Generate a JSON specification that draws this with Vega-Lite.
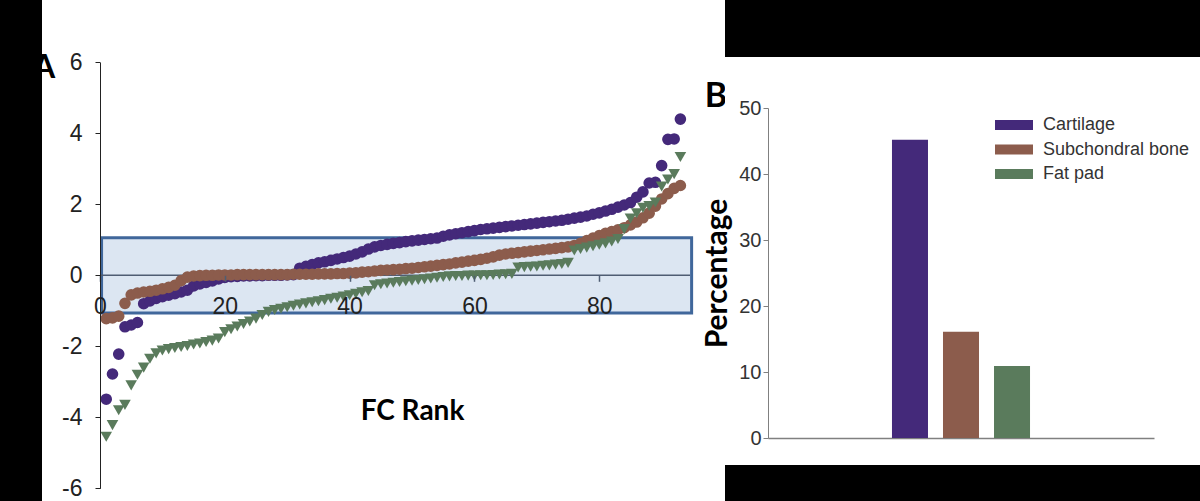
{
  "$schema": "https://vega.github.io/schema/vega-lite/v6.json",
  "background": "black",
  "padding": {"left": 42, "top": 0, "right": 0, "bottom": 0},
  "spacing": 0,
  "bounds": "flush",
  "config": {"view": {"stroke": null}, "axis": {"grid": false, "labelFont": "Liberation Sans"}, "font": "Liberation Sans"},
  "resolve": {"scale": {"color": "independent", "shape": "independent", "size": "independent"}, "legend": {"color": "independent"}},
  "datasets": {
    "fc": [
      {"tissue":"Cartilage","rank":1,"log_fc":-3.49},{"tissue":"Cartilage","rank":2,"log_fc":-2.78},{"tissue":"Cartilage","rank":3,"log_fc":-2.22},{"tissue":"Cartilage","rank":4,"log_fc":-1.45},{"tissue":"Cartilage","rank":5,"log_fc":-1.4},{"tissue":"Cartilage","rank":6,"log_fc":-1.33},{"tissue":"Cartilage","rank":7,"log_fc":-0.8},{"tissue":"Cartilage","rank":8,"log_fc":-0.72},{"tissue":"Cartilage","rank":9,"log_fc":-0.65},{"tissue":"Cartilage","rank":10,"log_fc":-0.6},
      {"tissue":"Cartilage","rank":11,"log_fc":-0.56},{"tissue":"Cartilage","rank":12,"log_fc":-0.52},{"tissue":"Cartilage","rank":13,"log_fc":-0.47},{"tissue":"Cartilage","rank":14,"log_fc":-0.42},{"tissue":"Cartilage","rank":15,"log_fc":-0.3},{"tissue":"Cartilage","rank":16,"log_fc":-0.24},{"tissue":"Cartilage","rank":17,"log_fc":-0.2},{"tissue":"Cartilage","rank":18,"log_fc":-0.16},{"tissue":"Cartilage","rank":19,"log_fc":-0.1},{"tissue":"Cartilage","rank":20,"log_fc":-0.06},
      {"tissue":"Cartilage","rank":21,"log_fc":-0.04},{"tissue":"Cartilage","rank":22,"log_fc":-0.03},{"tissue":"Cartilage","rank":23,"log_fc":-0.02},{"tissue":"Cartilage","rank":24,"log_fc":-0.02},{"tissue":"Cartilage","rank":25,"log_fc":-0.01},{"tissue":"Cartilage","rank":26,"log_fc":-0.01},{"tissue":"Cartilage","rank":27,"log_fc":0},{"tissue":"Cartilage","rank":28,"log_fc":0},{"tissue":"Cartilage","rank":29,"log_fc":0},{"tissue":"Cartilage","rank":30,"log_fc":0.01},
      {"tissue":"Cartilage","rank":31,"log_fc":0.02},{"tissue":"Cartilage","rank":32,"log_fc":0.2},{"tissue":"Cartilage","rank":33,"log_fc":0.25},{"tissue":"Cartilage","rank":34,"log_fc":0.3},{"tissue":"Cartilage","rank":35,"log_fc":0.35},{"tissue":"Cartilage","rank":36,"log_fc":0.38},{"tissue":"Cartilage","rank":37,"log_fc":0.42},{"tissue":"Cartilage","rank":38,"log_fc":0.46},{"tissue":"Cartilage","rank":39,"log_fc":0.5},{"tissue":"Cartilage","rank":40,"log_fc":0.54},
      {"tissue":"Cartilage","rank":41,"log_fc":0.6},{"tissue":"Cartilage","rank":42,"log_fc":0.66},{"tissue":"Cartilage","rank":43,"log_fc":0.74},{"tissue":"Cartilage","rank":44,"log_fc":0.8},{"tissue":"Cartilage","rank":45,"log_fc":0.84},{"tissue":"Cartilage","rank":46,"log_fc":0.87},{"tissue":"Cartilage","rank":47,"log_fc":0.9},{"tissue":"Cartilage","rank":48,"log_fc":0.92},{"tissue":"Cartilage","rank":49,"log_fc":0.95},{"tissue":"Cartilage","rank":50,"log_fc":0.97},
      {"tissue":"Cartilage","rank":51,"log_fc":0.99},{"tissue":"Cartilage","rank":52,"log_fc":1.01},{"tissue":"Cartilage","rank":53,"log_fc":1.03},{"tissue":"Cartilage","rank":54,"log_fc":1.05},{"tissue":"Cartilage","rank":55,"log_fc":1.1},{"tissue":"Cartilage","rank":56,"log_fc":1.14},{"tissue":"Cartilage","rank":57,"log_fc":1.17},{"tissue":"Cartilage","rank":58,"log_fc":1.2},{"tissue":"Cartilage","rank":59,"log_fc":1.23},{"tissue":"Cartilage","rank":60,"log_fc":1.26},
      {"tissue":"Cartilage","rank":61,"log_fc":1.29},{"tissue":"Cartilage","rank":62,"log_fc":1.31},{"tissue":"Cartilage","rank":63,"log_fc":1.33},{"tissue":"Cartilage","rank":64,"log_fc":1.35},{"tissue":"Cartilage","rank":65,"log_fc":1.37},{"tissue":"Cartilage","rank":66,"log_fc":1.39},{"tissue":"Cartilage","rank":67,"log_fc":1.41},{"tissue":"Cartilage","rank":68,"log_fc":1.43},{"tissue":"Cartilage","rank":69,"log_fc":1.45},{"tissue":"Cartilage","rank":70,"log_fc":1.47},
      {"tissue":"Cartilage","rank":71,"log_fc":1.49},{"tissue":"Cartilage","rank":72,"log_fc":1.51},{"tissue":"Cartilage","rank":73,"log_fc":1.53},{"tissue":"Cartilage","rank":74,"log_fc":1.55},{"tissue":"Cartilage","rank":75,"log_fc":1.58},{"tissue":"Cartilage","rank":76,"log_fc":1.61},{"tissue":"Cartilage","rank":77,"log_fc":1.64},{"tissue":"Cartilage","rank":78,"log_fc":1.67},{"tissue":"Cartilage","rank":79,"log_fc":1.72},{"tissue":"Cartilage","rank":80,"log_fc":1.76},
      {"tissue":"Cartilage","rank":81,"log_fc":1.81},{"tissue":"Cartilage","rank":82,"log_fc":1.86},{"tissue":"Cartilage","rank":83,"log_fc":1.92},{"tissue":"Cartilage","rank":84,"log_fc":1.98},{"tissue":"Cartilage","rank":85,"log_fc":2.05},{"tissue":"Cartilage","rank":86,"log_fc":2.2},{"tissue":"Cartilage","rank":87,"log_fc":2.35},{"tissue":"Cartilage","rank":88,"log_fc":2.6},{"tissue":"Cartilage","rank":89,"log_fc":2.62},{"tissue":"Cartilage","rank":90,"log_fc":3.09},
      {"tissue":"Cartilage","rank":91,"log_fc":3.83},{"tissue":"Cartilage","rank":92,"log_fc":3.84},{"tissue":"Cartilage","rank":93,"log_fc":4.4},
      {"tissue":"Subchondral bone","rank":1,"log_fc":-1.22},{"tissue":"Subchondral bone","rank":2,"log_fc":-1.2},{"tissue":"Subchondral bone","rank":3,"log_fc":-1.15},{"tissue":"Subchondral bone","rank":4,"log_fc":-0.79},{"tissue":"Subchondral bone","rank":5,"log_fc":-0.55},{"tissue":"Subchondral bone","rank":6,"log_fc":-0.5},{"tissue":"Subchondral bone","rank":7,"log_fc":-0.47},{"tissue":"Subchondral bone","rank":8,"log_fc":-0.45},{"tissue":"Subchondral bone","rank":9,"log_fc":-0.42},{"tissue":"Subchondral bone","rank":10,"log_fc":-0.38},
      {"tissue":"Subchondral bone","rank":11,"log_fc":-0.34},{"tissue":"Subchondral bone","rank":12,"log_fc":-0.28},{"tissue":"Subchondral bone","rank":13,"log_fc":-0.15},{"tissue":"Subchondral bone","rank":14,"log_fc":-0.05},{"tissue":"Subchondral bone","rank":15,"log_fc":-0.02},{"tissue":"Subchondral bone","rank":16,"log_fc":-0.01},{"tissue":"Subchondral bone","rank":17,"log_fc":0},{"tissue":"Subchondral bone","rank":18,"log_fc":0},{"tissue":"Subchondral bone","rank":19,"log_fc":0.01},{"tissue":"Subchondral bone","rank":20,"log_fc":0.01},
      {"tissue":"Subchondral bone","rank":21,"log_fc":0.01},{"tissue":"Subchondral bone","rank":22,"log_fc":0.02},{"tissue":"Subchondral bone","rank":23,"log_fc":0.02},{"tissue":"Subchondral bone","rank":24,"log_fc":0.02},{"tissue":"Subchondral bone","rank":25,"log_fc":0.02},{"tissue":"Subchondral bone","rank":26,"log_fc":0.02},{"tissue":"Subchondral bone","rank":27,"log_fc":0.02},{"tissue":"Subchondral bone","rank":28,"log_fc":0.02},{"tissue":"Subchondral bone","rank":29,"log_fc":0.02},{"tissue":"Subchondral bone","rank":30,"log_fc":0.02},
      {"tissue":"Subchondral bone","rank":31,"log_fc":0.03},{"tissue":"Subchondral bone","rank":32,"log_fc":0.03},{"tissue":"Subchondral bone","rank":33,"log_fc":0.03},{"tissue":"Subchondral bone","rank":34,"log_fc":0.03},{"tissue":"Subchondral bone","rank":35,"log_fc":0.04},{"tissue":"Subchondral bone","rank":36,"log_fc":0.04},{"tissue":"Subchondral bone","rank":37,"log_fc":0.04},{"tissue":"Subchondral bone","rank":38,"log_fc":0.05},{"tissue":"Subchondral bone","rank":39,"log_fc":0.05},{"tissue":"Subchondral bone","rank":40,"log_fc":0.06},
      {"tissue":"Subchondral bone","rank":41,"log_fc":0.07},{"tissue":"Subchondral bone","rank":42,"log_fc":0.09},{"tissue":"Subchondral bone","rank":43,"log_fc":0.1},{"tissue":"Subchondral bone","rank":44,"log_fc":0.12},{"tissue":"Subchondral bone","rank":45,"log_fc":0.14},{"tissue":"Subchondral bone","rank":46,"log_fc":0.15},{"tissue":"Subchondral bone","rank":47,"log_fc":0.16},{"tissue":"Subchondral bone","rank":48,"log_fc":0.17},{"tissue":"Subchondral bone","rank":49,"log_fc":0.19},{"tissue":"Subchondral bone","rank":50,"log_fc":0.2},
      {"tissue":"Subchondral bone","rank":51,"log_fc":0.22},{"tissue":"Subchondral bone","rank":52,"log_fc":0.24},{"tissue":"Subchondral bone","rank":53,"log_fc":0.26},{"tissue":"Subchondral bone","rank":54,"log_fc":0.28},{"tissue":"Subchondral bone","rank":55,"log_fc":0.3},{"tissue":"Subchondral bone","rank":56,"log_fc":0.32},{"tissue":"Subchondral bone","rank":57,"log_fc":0.35},{"tissue":"Subchondral bone","rank":58,"log_fc":0.37},{"tissue":"Subchondral bone","rank":59,"log_fc":0.4},{"tissue":"Subchondral bone","rank":60,"log_fc":0.42},
      {"tissue":"Subchondral bone","rank":61,"log_fc":0.45},{"tissue":"Subchondral bone","rank":62,"log_fc":0.48},{"tissue":"Subchondral bone","rank":63,"log_fc":0.52},{"tissue":"Subchondral bone","rank":64,"log_fc":0.57},{"tissue":"Subchondral bone","rank":65,"log_fc":0.6},{"tissue":"Subchondral bone","rank":66,"log_fc":0.62},{"tissue":"Subchondral bone","rank":67,"log_fc":0.64},{"tissue":"Subchondral bone","rank":68,"log_fc":0.66},{"tissue":"Subchondral bone","rank":69,"log_fc":0.68},{"tissue":"Subchondral bone","rank":70,"log_fc":0.7},
      {"tissue":"Subchondral bone","rank":71,"log_fc":0.72},{"tissue":"Subchondral bone","rank":72,"log_fc":0.74},{"tissue":"Subchondral bone","rank":73,"log_fc":0.76},{"tissue":"Subchondral bone","rank":74,"log_fc":0.78},{"tissue":"Subchondral bone","rank":75,"log_fc":0.8},{"tissue":"Subchondral bone","rank":76,"log_fc":0.84},{"tissue":"Subchondral bone","rank":77,"log_fc":0.9},{"tissue":"Subchondral bone","rank":78,"log_fc":0.98},{"tissue":"Subchondral bone","rank":79,"log_fc":1.05},{"tissue":"Subchondral bone","rank":80,"log_fc":1.12},
      {"tissue":"Subchondral bone","rank":81,"log_fc":1.18},{"tissue":"Subchondral bone","rank":82,"log_fc":1.23},{"tissue":"Subchondral bone","rank":83,"log_fc":1.28},{"tissue":"Subchondral bone","rank":84,"log_fc":1.34},{"tissue":"Subchondral bone","rank":85,"log_fc":1.42},{"tissue":"Subchondral bone","rank":86,"log_fc":1.5},{"tissue":"Subchondral bone","rank":87,"log_fc":1.62},{"tissue":"Subchondral bone","rank":88,"log_fc":1.75},{"tissue":"Subchondral bone","rank":89,"log_fc":1.95},{"tissue":"Subchondral bone","rank":90,"log_fc":2.15},
      {"tissue":"Subchondral bone","rank":91,"log_fc":2.3},{"tissue":"Subchondral bone","rank":92,"log_fc":2.45},{"tissue":"Subchondral bone","rank":93,"log_fc":2.53},
      {"tissue":"Fat pad","rank":1,"log_fc":-4.55},{"tissue":"Fat pad","rank":2,"log_fc":-4.22},{"tissue":"Fat pad","rank":3,"log_fc":-3.8},{"tissue":"Fat pad","rank":4,"log_fc":-3.65},{"tissue":"Fat pad","rank":5,"log_fc":-3.1},{"tissue":"Fat pad","rank":6,"log_fc":-2.8},{"tissue":"Fat pad","rank":7,"log_fc":-2.6},{"tissue":"Fat pad","rank":8,"log_fc":-2.35},{"tissue":"Fat pad","rank":9,"log_fc":-2.2},{"tissue":"Fat pad","rank":10,"log_fc":-2.12},
      {"tissue":"Fat pad","rank":11,"log_fc":-2.08},{"tissue":"Fat pad","rank":12,"log_fc":-2.05},{"tissue":"Fat pad","rank":13,"log_fc":-2.02},{"tissue":"Fat pad","rank":14,"log_fc":-1.99},{"tissue":"Fat pad","rank":15,"log_fc":-1.95},{"tissue":"Fat pad","rank":16,"log_fc":-1.92},{"tissue":"Fat pad","rank":17,"log_fc":-1.88},{"tissue":"Fat pad","rank":18,"log_fc":-1.84},{"tissue":"Fat pad","rank":19,"log_fc":-1.78},{"tissue":"Fat pad","rank":20,"log_fc":-1.6},
      {"tissue":"Fat pad","rank":21,"log_fc":-1.52},{"tissue":"Fat pad","rank":22,"log_fc":-1.44},{"tissue":"Fat pad","rank":23,"log_fc":-1.37},{"tissue":"Fat pad","rank":24,"log_fc":-1.3},{"tissue":"Fat pad","rank":25,"log_fc":-1.22},{"tissue":"Fat pad","rank":26,"log_fc":-1.12},{"tissue":"Fat pad","rank":27,"log_fc":-1.03},{"tissue":"Fat pad","rank":28,"log_fc":-0.98},{"tissue":"Fat pad","rank":29,"log_fc":-0.94},{"tissue":"Fat pad","rank":30,"log_fc":-0.9},
      {"tissue":"Fat pad","rank":31,"log_fc":-0.86},{"tissue":"Fat pad","rank":32,"log_fc":-0.82},{"tissue":"Fat pad","rank":33,"log_fc":-0.79},{"tissue":"Fat pad","rank":34,"log_fc":-0.76},{"tissue":"Fat pad","rank":35,"log_fc":-0.73},{"tissue":"Fat pad","rank":36,"log_fc":-0.7},{"tissue":"Fat pad","rank":37,"log_fc":-0.66},{"tissue":"Fat pad","rank":38,"log_fc":-0.63},{"tissue":"Fat pad","rank":39,"log_fc":-0.6},{"tissue":"Fat pad","rank":40,"log_fc":-0.56},
      {"tissue":"Fat pad","rank":41,"log_fc":-0.52},{"tissue":"Fat pad","rank":42,"log_fc":-0.48},{"tissue":"Fat pad","rank":43,"log_fc":-0.44},{"tissue":"Fat pad","rank":44,"log_fc":-0.28},{"tissue":"Fat pad","rank":45,"log_fc":-0.25},{"tissue":"Fat pad","rank":46,"log_fc":-0.23},{"tissue":"Fat pad","rank":47,"log_fc":-0.21},{"tissue":"Fat pad","rank":48,"log_fc":-0.19},{"tissue":"Fat pad","rank":49,"log_fc":-0.17},{"tissue":"Fat pad","rank":50,"log_fc":-0.15},
      {"tissue":"Fat pad","rank":51,"log_fc":-0.13},{"tissue":"Fat pad","rank":52,"log_fc":-0.11},{"tissue":"Fat pad","rank":53,"log_fc":-0.09},{"tissue":"Fat pad","rank":54,"log_fc":-0.07},{"tissue":"Fat pad","rank":55,"log_fc":-0.05},{"tissue":"Fat pad","rank":56,"log_fc":-0.03},{"tissue":"Fat pad","rank":57,"log_fc":-0.02},{"tissue":"Fat pad","rank":58,"log_fc":-0.02},{"tissue":"Fat pad","rank":59,"log_fc":-0.01},{"tissue":"Fat pad","rank":60,"log_fc":-0.01},
      {"tissue":"Fat pad","rank":61,"log_fc":0},{"tissue":"Fat pad","rank":62,"log_fc":0},{"tissue":"Fat pad","rank":63,"log_fc":0.01},{"tissue":"Fat pad","rank":64,"log_fc":0.02},{"tissue":"Fat pad","rank":65,"log_fc":0.03},{"tissue":"Fat pad","rank":66,"log_fc":0.04},{"tissue":"Fat pad","rank":67,"log_fc":0.22},{"tissue":"Fat pad","rank":68,"log_fc":0.23},{"tissue":"Fat pad","rank":69,"log_fc":0.24},{"tissue":"Fat pad","rank":70,"log_fc":0.25},
      {"tissue":"Fat pad","rank":71,"log_fc":0.27},{"tissue":"Fat pad","rank":72,"log_fc":0.28},{"tissue":"Fat pad","rank":73,"log_fc":0.3},{"tissue":"Fat pad","rank":74,"log_fc":0.32},{"tissue":"Fat pad","rank":75,"log_fc":0.35},{"tissue":"Fat pad","rank":76,"log_fc":0.7},{"tissue":"Fat pad","rank":77,"log_fc":0.74},{"tissue":"Fat pad","rank":78,"log_fc":0.78},{"tissue":"Fat pad","rank":79,"log_fc":0.82},{"tissue":"Fat pad","rank":80,"log_fc":0.86},
      {"tissue":"Fat pad","rank":81,"log_fc":0.9},{"tissue":"Fat pad","rank":82,"log_fc":0.95},{"tissue":"Fat pad","rank":83,"log_fc":1.02},{"tissue":"Fat pad","rank":84,"log_fc":1.3},{"tissue":"Fat pad","rank":85,"log_fc":1.6},{"tissue":"Fat pad","rank":86,"log_fc":1.75},{"tissue":"Fat pad","rank":87,"log_fc":1.9},{"tissue":"Fat pad","rank":88,"log_fc":1.95},{"tissue":"Fat pad","rank":89,"log_fc":2.05},{"tissue":"Fat pad","rank":90,"log_fc":2.5},
      {"tissue":"Fat pad","rank":91,"log_fc":2.7},{"tissue":"Fat pad","rank":92,"log_fc":2.85},{"tissue":"Fat pad","rank":93,"log_fc":3.33}
    ],
    "pct": [
      {"tissue":"Cartilage","percentage":45.2},
      {"tissue":"Subchondral bone","percentage":16.1},
      {"tissue":"Fat pad","percentage":10.9}
    ]
  },
  "hconcat": [
    {
      "width": 683,
      "height": 501,
      "view": {"fill": "white", "stroke": null},
      "layer": [
        {
          "data": {"values": [{}]},
          "mark": {"type": "rect", "fill": "#dce6f2", "stroke": "#40679b", "strokeWidth": 3},
          "encoding": {
            "x": {"datum": 0.25, "type": "quantitative"},
            "x2": {"datum": 94.8},
            "y": {"datum": -1.06, "type": "quantitative"},
            "y2": {"datum": 1.06}
          }
        },
        {
          "data": {"values": [{}]},
          "mark": {"type": "rule", "color": "#4f5d73", "strokeWidth": 1.5},
          "encoding": {
            "x": {"datum": 0, "type": "quantitative"},
            "x2": {"datum": 94.54},
            "y": {"datum": 0, "type": "quantitative"}
          }
        },
        {
          "data": {"name": "fc"},
          "mark": {"type": "point", "filled": true, "opacity": 1, "strokeWidth": 0},
          "encoding": {
            "x": {
              "field": "rank", "type": "quantitative",
              "scale": {"domain": [0, 94.54], "range": [58, 648], "nice": false, "zero": false},
              "axis": {
                "values": [0, 20, 40, 60, 80], "orient": "bottom", "offset": -225.7, "zindex": 1,
                "domain": false, "tickColor": "#4f5d73", "tickSize": 6, "tickWidth": 1.5,
                "labelFontSize": 23, "labelColor": "#222222", "labelPadding": 14, "labelFlush": false, "labelOverlap": false,
                "title": "FC Rank", "titleFont": "Lato", "titleFontWeight": "bold", "titleFontSize": 28, "titleColor": "black",
                "titlePadding": 79, "titleX": 370
              }
            },
            "y": {
              "field": "log_fc", "type": "quantitative",
              "scale": {"domain": [-6, 6], "range": [488.3, 62.3], "nice": false, "zero": false},
              "axis": {
                "values": [-6, -4, -2, 0, 2, 4, 6], "offset": -58, "zindex": 1,
                "domainColor": "#222222", "domainWidth": 1, "tickColor": "#222222", "tickSize": 5,
                "labelFontSize": 23, "labelColor": "#222222", "labelPadding": 13, "labelFlush": false,
                "labelExpr": "'' + datum.value", "title": null
              }
            },
            "color": {
              "field": "tissue", "type": "nominal",
              "scale": {"domain": ["Cartilage", "Subchondral bone", "Fat pad"], "range": ["#44297a", "#8c5c4c", "#5a7b5c"]},
              "legend": null
            },
            "shape": {
              "field": "tissue", "type": "nominal",
              "scale": {"domain": ["Cartilage", "Subchondral bone", "Fat pad"], "range": ["circle", "circle", "triangle-down"]},
              "legend": null
            },
            "size": {
              "field": "tissue", "type": "nominal",
              "scale": {"domain": ["Cartilage", "Subchondral bone", "Fat pad"], "range": [135, 135, 180]},
              "legend": null
            }
          }
        },
        {
          "data": {"values": [{}]},
          "mark": {"type": "text", "text": "A", "font": "Lato", "fontWeight": "bold", "fontSize": 32, "color": "black", "align": "center", "baseline": "alphabetic", "clip": true},
          "encoding": {
            "x": {"datum": -8.97, "type": "quantitative"},
            "y": {"datum": 5.56, "type": "quantitative"}
          }
        },
        {
          "data": {"values": [{}]},
          "mark": {"type": "text", "text": "B", "font": "Lato", "fontWeight": "bold", "fontSize": 34, "color": "black", "align": "center", "baseline": "alphabetic"},
          "encoding": {
            "x": {"datum": 98.7, "type": "quantitative"},
            "y": {"datum": 4.74, "type": "quantitative"}
          }
        }
      ]
    },
    {
      "spacing": 0,
      "bounds": "flush",
      "resolve": {"scale": {"color": "independent"}, "legend": {"color": "independent"}},
      "vconcat": [
        {
          "width": 475,
          "height": 57,
          "data": {"values": []},
          "mark": {"type": "rect"},
          "encoding": {}
        },
        {
          "width": 475,
          "height": 408,
          "view": {"fill": "white", "stroke": null},
          "data": {"name": "pct"},
          "mark": {"type": "bar"},
          "encoding": {
            "x": {
              "field": "tissue", "type": "nominal",
              "scale": {"domain": ["gap1", "gap2", "Cartilage", "Subchondral bone", "Fat pad", "gap3", "gap4"], "range": [43, 429], "paddingInner": 0.294, "paddingOuter": 0.43},
              "axis": {"orient": "bottom", "offset": -27, "labels": false, "ticks": false, "title": null, "domainColor": "#808080", "domainWidth": 1.5}
            },
            "y": {
              "field": "percentage", "type": "quantitative",
              "scale": {"domain": [0, 50], "range": [381, 51], "nice": false, "zero": true},
              "axis": {
                "values": [0, 10, 20, 30, 40, 50], "offset": -43,
                "domainColor": "#808080", "domainWidth": 1, "tickColor": "#808080", "tickSize": 5,
                "labelFont": "Liberation Sans", "labelFontSize": 20, "labelColor": "#333333", "labelPadding": 2,
                "title": "Percentage", "titleFont": "Lato", "titleFontSize": 30, "titleFontWeight": "bold", "titleColor": "black", "titlePadding": 6
              }
            },
            "color": {
              "field": "tissue", "type": "nominal", "sort": ["Cartilage", "Subchondral bone", "Fat pad"],
              "scale": {"domain": ["Cartilage", "Subchondral bone", "Fat pad"], "range": ["#44297a", "#8c5c4c", "#5a7b5c"]},
              "legend": {
                "orient": "none", "legendX": 279.5, "legendY": 58.5, "title": null, "padding": 0,
                "symbolType": "M-2,-0.52H2V0.52H-2Z", "symbolSize": 361, "symbolStrokeWidth": 0,
                "rowPadding": 5.5, "labelOffset": 19.5, "labelLimit": 400,
                "labelFont": "Liberation Sans", "labelFontSize": 18, "labelColor": "#333333"
              }
            }
          }
        }
      ]
    }
  ]
}
